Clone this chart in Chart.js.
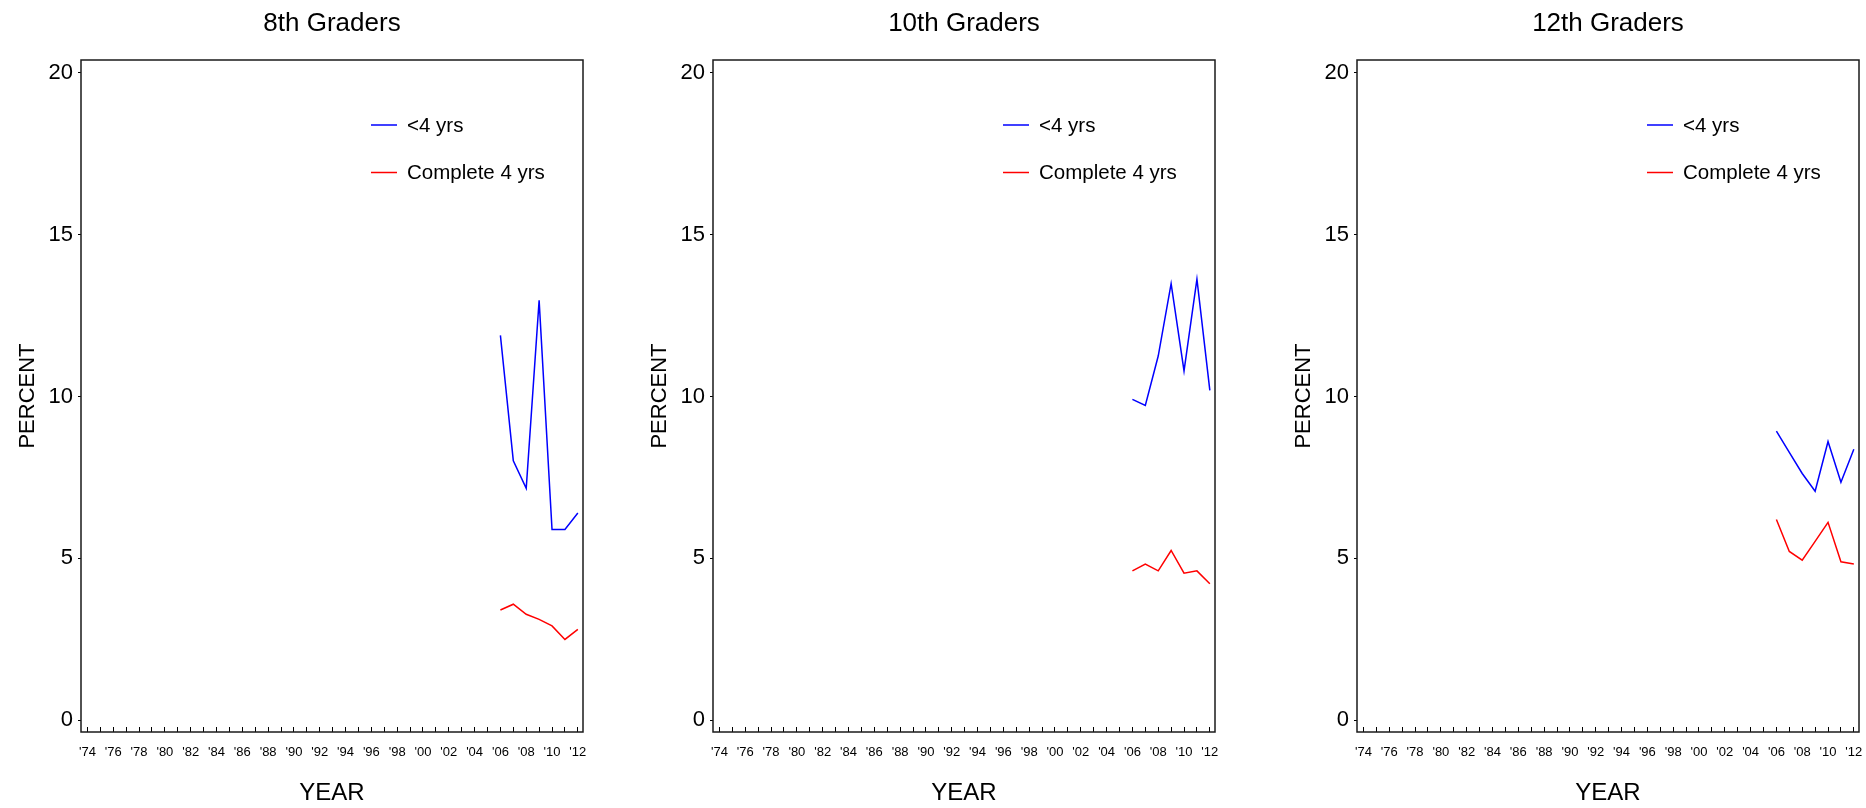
<!DOCTYPE html>
<html><head><meta charset="utf-8">
<script src="https://cdn.jsdelivr.net/npm/chart.js@4.4.0/dist/chart.umd.min.js"></script>
<style>
html,body{margin:0;padding:0;background:#fff;width:1866px;height:808px;overflow:hidden;position:relative;}
canvas{position:absolute;top:0;}
</style></head><body>
<canvas id="c1" width="590" height="808" style="left:0px"></canvas>
<canvas id="c2" width="590" height="808" style="left:632px"></canvas>
<canvas id="c3" width="590" height="808" style="left:1276px"></canvas>
<script>
// ---- data ----
const years = [2006, 2007, 2008, 2009, 2010, 2011, 2012];
const seriesLabels = ['<4 yrs', 'Complete 4 yrs'];
const panelTitles = ['8th Graders', '10th Graders', '12th Graders'];
const grade8Under4 = [11.89, 8.01, 7.16, 12.97, 5.89, 5.89, 6.40];
const grade8Complete4 = [3.40, 3.58, 3.27, 3.11, 2.91, 2.49, 2.80];
const grade10Under4 = [9.91, 9.72, 11.25, 13.49, 10.79, 13.63, 10.19];
const grade10Complete4 = [4.61, 4.82, 4.61, 5.24, 4.54, 4.61, 4.21];
const grade12Under4 = [8.93, 8.27, 7.62, 7.07, 8.61, 7.35, 8.37];
const grade12Complete4 = [6.20, 5.21, 4.94, 5.52, 6.11, 4.89, 4.82];
const xTickYears = [1974,1976,1978,1980,1982,1984,1986,1988,1990,1992,1994,1996,1998,2000,2002,2004,2006,2008,2010,2012];
const xTickLabels = ["'74","'76","'78","'80","'82","'84","'86","'88","'90","'92","'94","'96","'98","'00","'02","'04","'06","'08","'10","'12"];
const yTickValues = [0, 5, 10, 15, 20];
const xAxisTitle = 'YEAR';
const yAxisTitle = 'PERCENT';

const FONT = '"Liberation Sans", Arial, Helvetica, sans-serif';

const framePlugin = {
  id: 'frame',
  afterDraw(chart) {
    const {ctx, chartArea: a} = chart;
    ctx.save();
    ctx.strokeStyle = '#1a1a1a';
    ctx.lineWidth = 1.5;
    ctx.strokeRect(a.left, a.top, a.right - a.left, a.bottom - a.top);
    ctx.restore();
  }
};

const insideLegend = {
  id: 'insideLegend',
  afterDatasetsDraw(chart) {
    const {ctx, chartArea: a} = chart;
    ctx.save();
    chart.data.datasets.forEach((ds, i) => {
      const y = a.top + 65 + i * 47.5;
      const x0 = a.left + 290;
      ctx.strokeStyle = ds.borderColor;
      ctx.lineWidth = 1.5;
      ctx.beginPath(); ctx.moveTo(x0, y); ctx.lineTo(x0 + 26, y); ctx.stroke();
      ctx.fillStyle = '#000';
      ctx.font = '20.5px ' + FONT;
      ctx.textBaseline = 'middle';
      ctx.textAlign = 'left';
      ctx.fillText(ds.label, x0 + 36, y + 1);
    });
    ctx.restore();
  }
};

function toPoints(vals) { return years.map((yr, i) => ({x: yr, y: vals[i]})); }

function makeChart(id, title, under4, complete4) {
  new Chart(document.getElementById(id), {
    type: 'line',
    data: {
      datasets: [
        {label: seriesLabels[0], data: toPoints(under4), borderColor: '#0000ff', borderWidth: 1.5, pointRadius: 0, tension: 0, fill: false},
        {label: seriesLabels[1], data: toPoints(complete4), borderColor: '#ff0000', borderWidth: 1.5, pointRadius: 0, tension: 0, fill: false}
      ]
    },
    options: {
      responsive: false,
      animation: false,
      devicePixelRatio: 1,
      layout: {padding: {left: 0, right: 7, top: 0, bottom: 0}},
      plugins: {
        legend: {display: false},
        tooltip: {enabled: false},
        title: {
          display: true, text: title, fullSize: false,
          color: '#000', font: {family: FONT, size: 26, weight: 'normal', lineHeight: 1.2},
          padding: {top: 8, bottom: 20.8}
        }
      },
      scales: {
        x: {
          type: 'linear',
          min: 1973.5, max: 2012.4,
          afterFit: s => { s.height = 76; },
          border: {display: false},
          grid: {display: true, drawOnChartArea: false, drawTicks: true, tickLength: -5, color: '#000', lineWidth: 1},
          ticks: {
            stepSize: 1, autoSkip: false, includeBounds: false, maxRotation: 0, minRotation: 0,
            padding: 0, color: '#000', font: {family: FONT, size: 13, lineHeight: '50px'},
            callback: v => { const k = xTickYears.indexOf(v); return k >= 0 ? xTickLabels[k] : ''; }
          },
          title: {display: true, text: xAxisTitle, color: '#000', font: {family: FONT, size: 24, lineHeight: 1.2}, padding: {top: 0, bottom: 0}}
        },
        y: {
          type: 'linear',
          min: -0.37, max: 20.4,
          afterFit: s => { s.width = 81; },
          afterBuildTicks: s => { s.ticks = yTickValues.map(v => ({value: v})); },
          border: {display: false},
          grid: {display: true, drawOnChartArea: false, drawTicks: true, tickLength: 3, color: '#000', lineWidth: 1},
          ticks: {padding: 5, color: '#000', font: {family: FONT, size: 22}},
          title: {display: true, text: yAxisTitle, color: '#000', font: {family: FONT, size: 22, lineHeight: 1.2}, padding: {top: 15, bottom: 0}}
        }
      }
    },
    plugins: [framePlugin, insideLegend]
  });
}

makeChart('c1', panelTitles[0], grade8Under4, grade8Complete4);
makeChart('c2', panelTitles[1], grade10Under4, grade10Complete4);
makeChart('c3', panelTitles[2], grade12Under4, grade12Complete4);
</script>
</body></html>
